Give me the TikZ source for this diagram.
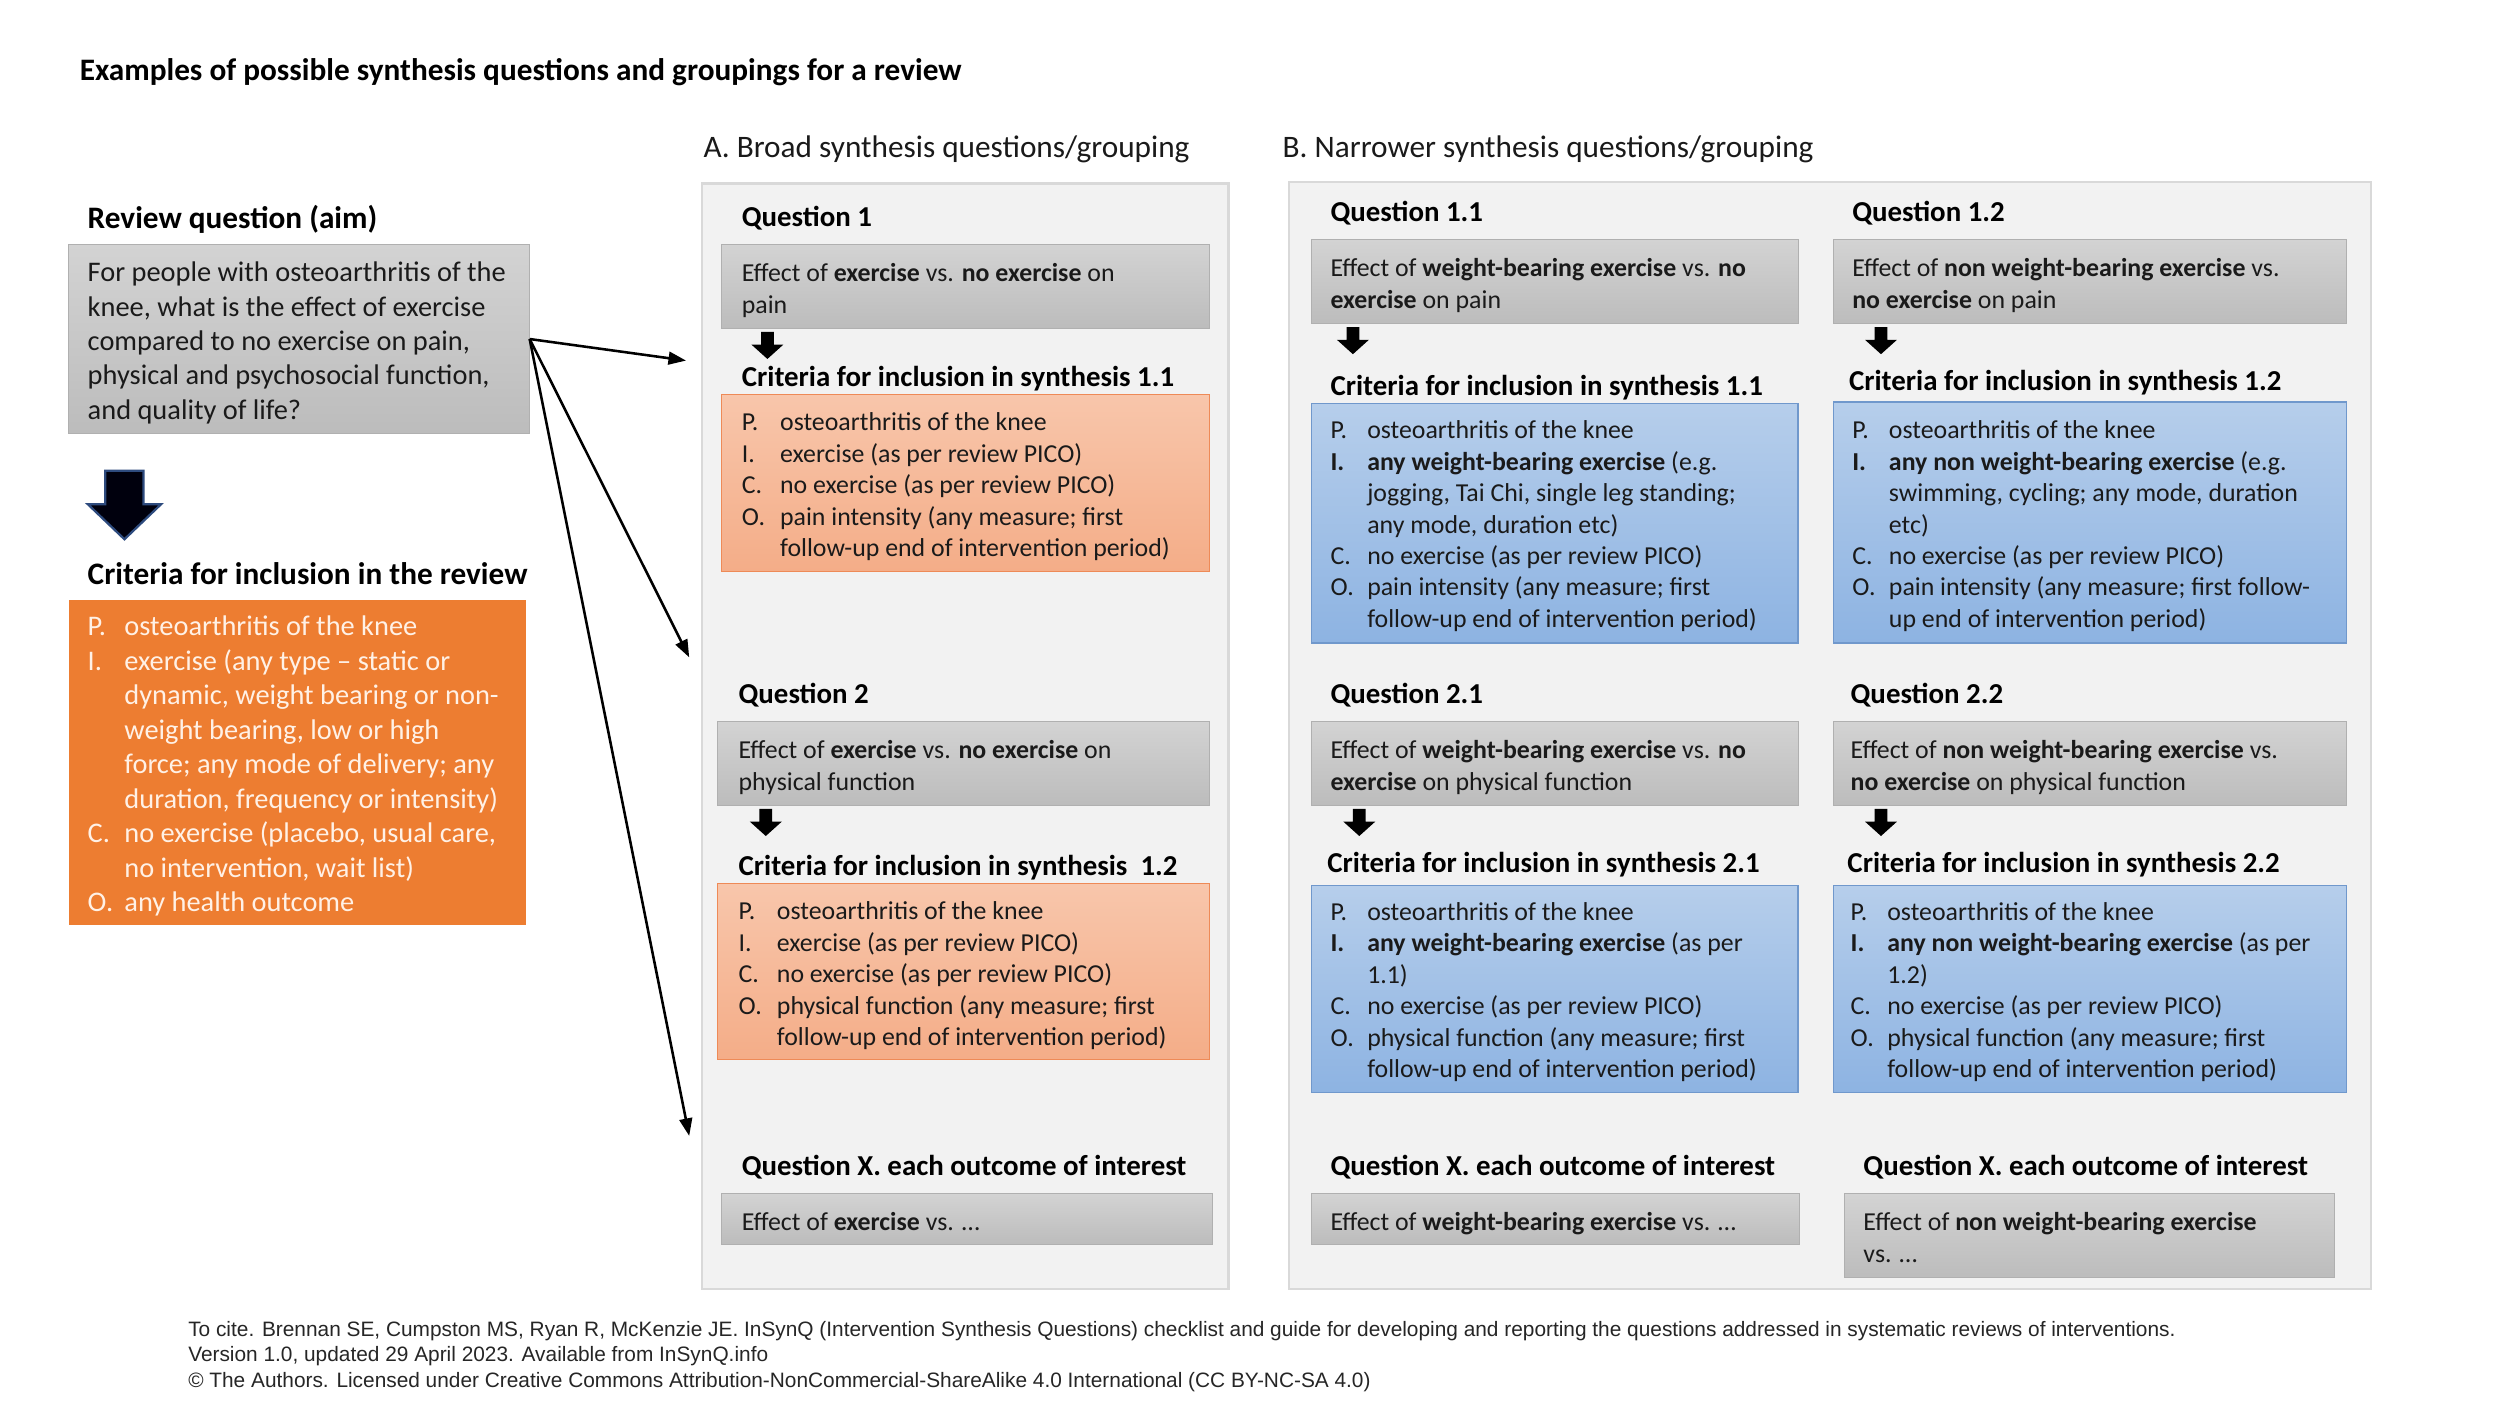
\documentclass[tikz,border=0pt]{standalone}
\usepackage{fontspec}
\setmainfont{Carlito}
\newfontfamily\footfont{Liberation Sans}
\usetikzlibrary{arrows.meta,calc}
\definecolor{grayT}{HTML}{D3D3D3}
\definecolor{grayB}{HTML}{BCBCBC}
\definecolor{grayD}{HTML}{B0B0B0}
\definecolor{salT}{HTML}{F8C6AB}
\definecolor{salB}{HTML}{F4AD88}
\definecolor{salD}{HTML}{EE8A57}
\definecolor{bluT}{HTML}{B6CEEB}
\definecolor{bluB}{HTML}{8DB3E2}
\definecolor{bluD}{HTML}{7098CC}
\definecolor{orangeF}{HTML}{ED7D31}
\definecolor{orangeTxt}{HTML}{FFF1E6}
\definecolor{panelF}{HTML}{F2F2F2}
\definecolor{panelD}{HTML}{D9D9D9}
\definecolor{navyD}{HTML}{2E4B7E}
\definecolor{txt}{HTML}{1A1A1A}
\begin{document}
\begin{tikzpicture}[x=1pt,y=-1pt,
  box/.style={anchor=north west, inner sep=0pt, outer sep=0pt},
  panel/.style={box, fill=panelF, draw=panelD, line width=1.6pt},
  graybox/.style={box, top color=grayT, bottom color=grayB, draw=grayD, line width=0.6pt},
  salbox/.style={box, top color=salT, bottom color=salB, draw=salD, line width=0.7pt},
  blubox/.style={box, top color=bluT, bottom color=bluB, draw=bluD, line width=0.7pt},
  orbox/.style={box, fill=orangeF},
  txtnode/.style={anchor=base west, inner sep=0pt, outer sep=0pt, text=txt, yshift=-1.5pt},
  title/.style={txtnode, font=\bfseries\fontsize{19.6}{23}\selectfont, text=black},
  colhead/.style={txtnode, font=\fontsize{19.6}{23}\selectfont},
  lefthead/.style={txtnode, font=\bfseries\fontsize{19.6}{23}\selectfont, text=black},
  qhead/.style={txtnode, font=\bfseries\fontsize{18.1}{21}\selectfont, text=black},
  body/.style={txtnode, font=\fontsize{16.2}{19.7}\selectfont},
  bodyL/.style={txtnode, font=\fontsize{17.8}{21.6}\selectfont},
  foot/.style={txtnode, yshift=1.5pt, font=\footfont\fontsize{13.07}{16}\selectfont, text=black!85},
  conn/.style={line width=1.6pt, -{Triangle[length=11pt,width=8pt]}},
  smallarrow/.pic={\fill[black] (-4,0) -- (4,0) -- (4,8) -- (10,8) -- (0,17) -- (-10,8) -- (-4,8) -- cycle;},
  bigarrow/.pic={\filldraw[fill=black!95!blue, draw=navyD, line width=1.4pt, line join=miter] (-12,0) -- (12,0) -- (12,21) -- (23,21) -- (0,43) -- (-23,21) -- (-12,21) -- cycle;}
]
\useasboundingbox[fill=white] (0,0) rectangle (1567,881.3);

% ---------- title ----------
\node[title] (title) at (50,49) {Examples of possible synthesis questions and groupings for a review};

% ---------- left column ----------
\node[lefthead] (rqhead) at (55,141.5) {Review question (aim)};
\node[graybox, minimum width=289pt, minimum height=119pt] (rqbox) at (43,153) {};
\node[bodyL] (rqtext) at (55,175) {\begin{tabular}[t]{@{}l@{}}
For people with osteoarthritis of the\\
knee, what is the effect of exercise\\
compared to no exercise on pain,\\
physical and psychosocial function,\\
and quality of life?\end{tabular}};

\pic at (78,295) {bigarrow};

\node[lefthead] (crhead) at (55,365) {Criteria for inclusion in the review};
\node[orbox, minimum width=287pt, minimum height=204pt] (crbox) at (43,376) {};
\node[bodyL, text=orangeTxt] (crtext) at (55,397) {\begin{tabular}[t]{@{}p{23pt}@{}l@{}}
P. & osteoarthritis of the knee\\
I. & exercise (any type – static or\\
   & dynamic, weight bearing or non-\\
   & weight bearing, low or high\\
   & force; any mode of delivery; any\\
   & duration, frequency or intensity)\\
C. & no exercise (placebo, usual care,\\
   & no intervention, wait list)\\
O. & any health outcome\end{tabular}};

% ---------- column A ----------
\node[colhead] (headA) at (441,97) {A. Broad synthesis questions/grouping};
\node[panel, minimum width=330pt, minimum height=693pt] (panelA) at (440,115) {};

\node[qhead] (qA1) at (465,140.5) {Question 1};
\node[graybox, minimum width=306pt, minimum height=53pt] (qA1box) at (452,153) {};
\node[body] (qA1text) at (465,175) {\begin{tabular}[t]{@{}l@{}}
Effect of \textbf{exercise} vs. \textbf{no exercise} on\\
pain\end{tabular}};
\pic at (481,208) {smallarrow};
\node[qhead] (cA1) at (465,240.5) {Criteria for inclusion in synthesis 1.1};
\node[salbox, minimum width=306pt, minimum height=111pt] (cA1box) at (452,247) {};
\node[body] (cA1text) at (465,268.5) {\begin{tabular}[t]{@{}p{24pt}@{}l@{}}
P. & osteoarthritis of the knee\\
I. & exercise (as per review PICO)\\
C. & no exercise (as per review PICO)\\
O. & pain intensity (any measure; first\\
   & follow-up end of intervention period)\end{tabular}};

\node[qhead] (qA2) at (463,439.5) {Question 2};
\node[graybox, minimum width=308pt, minimum height=53pt] (qA2box) at (450,452) {};
\node[body] (qA2text) at (463,474) {\begin{tabular}[t]{@{}l@{}}
Effect of \textbf{exercise} vs. \textbf{no exercise} on\\
physical function\end{tabular}};
\pic at (480,507) {smallarrow};
\node[qhead] (cA2) at (463,547.5) {Criteria for inclusion in synthesis\ \ 1.2};
\node[salbox, minimum width=308pt, minimum height=110pt] (cA2box) at (450,554) {};
\node[body] (cA2text) at (463,575) {\begin{tabular}[t]{@{}p{24pt}@{}l@{}}
P. & osteoarthritis of the knee\\
I. & exercise (as per review PICO)\\
C. & no exercise (as per review PICO)\\
O. & physical function (any measure; first\\
   & follow-up end of intervention period)\end{tabular}};

\node[qhead] (qAX) at (465,735.5) {Question X. each outcome of interest};
\node[graybox, minimum width=308pt, minimum height=32pt] (qAXbox) at (452,748) {};
\node[body] (qAXtext) at (465,770) {Effect of \textbf{exercise} vs. …};

% ---------- column B ----------
\node[colhead] (headB) at (804,97) {B. Narrower synthesis questions/grouping};
\node[panel, minimum width=678pt, minimum height=694pt] (panelB) at (808,114) {};

% B left
\node[qhead] (qB11) at (834,137.5) {Question 1.1};
\node[graybox, minimum width=305pt, minimum height=53pt] (qB11box) at (822,150) {};
\node[body] (qB11text) at (834,172) {\begin{tabular}[t]{@{}l@{}}
Effect of \textbf{weight-bearing exercise} vs. \textbf{no}\\
\textbf{exercise} on pain\end{tabular}};
\pic at (848,205) {smallarrow};
\node[qhead] (cB11) at (834,246.5) {Criteria for inclusion in synthesis 1.1};
\node[blubox, minimum width=305pt, minimum height=150pt] (cB11box) at (822,253) {};
\node[body] (cB11text) at (834,273.5) {\begin{tabular}[t]{@{}p{23pt}@{}l@{}}
P. & osteoarthritis of the knee\\
\textbf{I.} & \textbf{any weight-bearing exercise} (e.g.\\
   & jogging, Tai Chi, single leg standing;\\
   & any mode, duration etc)\\
C. & no exercise (as per review PICO)\\
O. & pain intensity (any measure; first\\
   & follow-up end of intervention period)\end{tabular}};

\node[qhead] (qB21) at (834,439.5) {Question 2.1};
\node[graybox, minimum width=305pt, minimum height=53pt] (qB21box) at (822,452) {};
\node[body] (qB21text) at (834,474) {\begin{tabular}[t]{@{}l@{}}
Effect of \textbf{weight-bearing exercise} vs. \textbf{no}\\
\textbf{exercise} on physical function\end{tabular}};
\pic at (852,507) {smallarrow};
\node[qhead] (cB21) at (832,545.5) {Criteria for inclusion in synthesis 2.1};
\node[blubox, minimum width=305pt, minimum height=130pt] (cB21box) at (822,555) {};
\node[body] (cB21text) at (834,575.5) {\begin{tabular}[t]{@{}p{23pt}@{}l@{}}
P. & osteoarthritis of the knee\\
\textbf{I.} & \textbf{any weight-bearing exercise} (as per\\
   & 1.1)\\
C. & no exercise (as per review PICO)\\
O. & physical function (any measure; first\\
   & follow-up end of intervention period)\end{tabular}};

\node[qhead] (qBX1) at (834,735.5) {Question X. each outcome of interest};
\node[graybox, minimum width=306pt, minimum height=32pt] (qBX1box) at (822,748) {};
\node[body] (qBX1text) at (834,770) {Effect of \textbf{weight-bearing exercise} vs. …};

% B right
\node[qhead] (qB12) at (1161,137.5) {Question 1.2};
\node[graybox, minimum width=322pt, minimum height=53pt] (qB12box) at (1149,150) {};
\node[body] (qB12text) at (1161,172) {\begin{tabular}[t]{@{}l@{}}
Effect of \textbf{non weight-bearing exercise} vs.\\
\textbf{no exercise} on pain\end{tabular}};
\pic at (1179,205) {smallarrow};
\node[qhead] (cB12) at (1159,243.5) {Criteria for inclusion in synthesis 1.2};
\node[blubox, minimum width=322pt, minimum height=151pt] (cB12box) at (1149,252) {};
\node[body] (cB12text) at (1161,273.5) {\begin{tabular}[t]{@{}p{23pt}@{}l@{}}
P. & osteoarthritis of the knee\\
\textbf{I.} & \textbf{any non weight-bearing exercise} (e.g.\\
   & swimming, cycling; any mode, duration\\
   & etc)\\
C. & no exercise (as per review PICO)\\
O. & pain intensity (any measure; first follow-\\
   & up end of intervention period)\end{tabular}};

\node[qhead] (qB22) at (1160,439.5) {Question 2.2};
\node[graybox, minimum width=322pt, minimum height=53pt] (qB22box) at (1149,452) {};
\node[body] (qB22text) at (1160,474) {\begin{tabular}[t]{@{}l@{}}
Effect of \textbf{non weight-bearing exercise} vs.\\
\textbf{no exercise} on physical function\end{tabular}};
\pic at (1179,507) {smallarrow};
\node[qhead] (cB22) at (1158,545.5) {Criteria for inclusion in synthesis 2.2};
\node[blubox, minimum width=322pt, minimum height=130pt] (cB22box) at (1149,555) {};
\node[body] (cB22text) at (1160,575.5) {\begin{tabular}[t]{@{}p{23pt}@{}l@{}}
P. & osteoarthritis of the knee\\
\textbf{I.} & \textbf{any non weight-bearing exercise} (as per\\
   & 1.2)\\
C. & no exercise (as per review PICO)\\
O. & physical function (any measure; first\\
   & follow-up end of intervention period)\end{tabular}};

\node[qhead] (qBX2) at (1168,735.5) {Question X. each outcome of interest};
\node[graybox, minimum width=307pt, minimum height=53pt] (qBX2box) at (1156,748) {};
\node[body] (qBX2text) at (1168,770) {\begin{tabular}[t]{@{}l@{}}
Effect of \textbf{non weight-bearing exercise}\\
vs. …\end{tabular}};

% ---------- connectors ----------
\coordinate (tA1) at (430,226);
\coordinate (tA2) at (432,412);
\coordinate (tAX) at (432,712);
\draw[conn] (rqbox.east) -- (tA1);
\draw[conn] (rqbox.east) -- (tA2);
\draw[conn] (rqbox.east) -- (tAX);

% ---------- footer ----------
\node[foot] (foot) at (118,837.5) {\begin{tabular}[t]{@{}l@{}}
To cite. Brennan SE, Cumpston MS, Ryan R, McKenzie JE. InSynQ (Intervention Synthesis Questions) checklist and guide for developing and reporting the questions addressed in systematic reviews of interventions.\\
Version 1.0, updated 29 April 2023. Available from InSynQ.info\\
© The Authors. Licensed under Creative Commons Attribution-NonCommercial-ShareAlike 4.0 International (CC BY-NC-SA 4.0)\end{tabular}};
\end{tikzpicture}
\end{document}
